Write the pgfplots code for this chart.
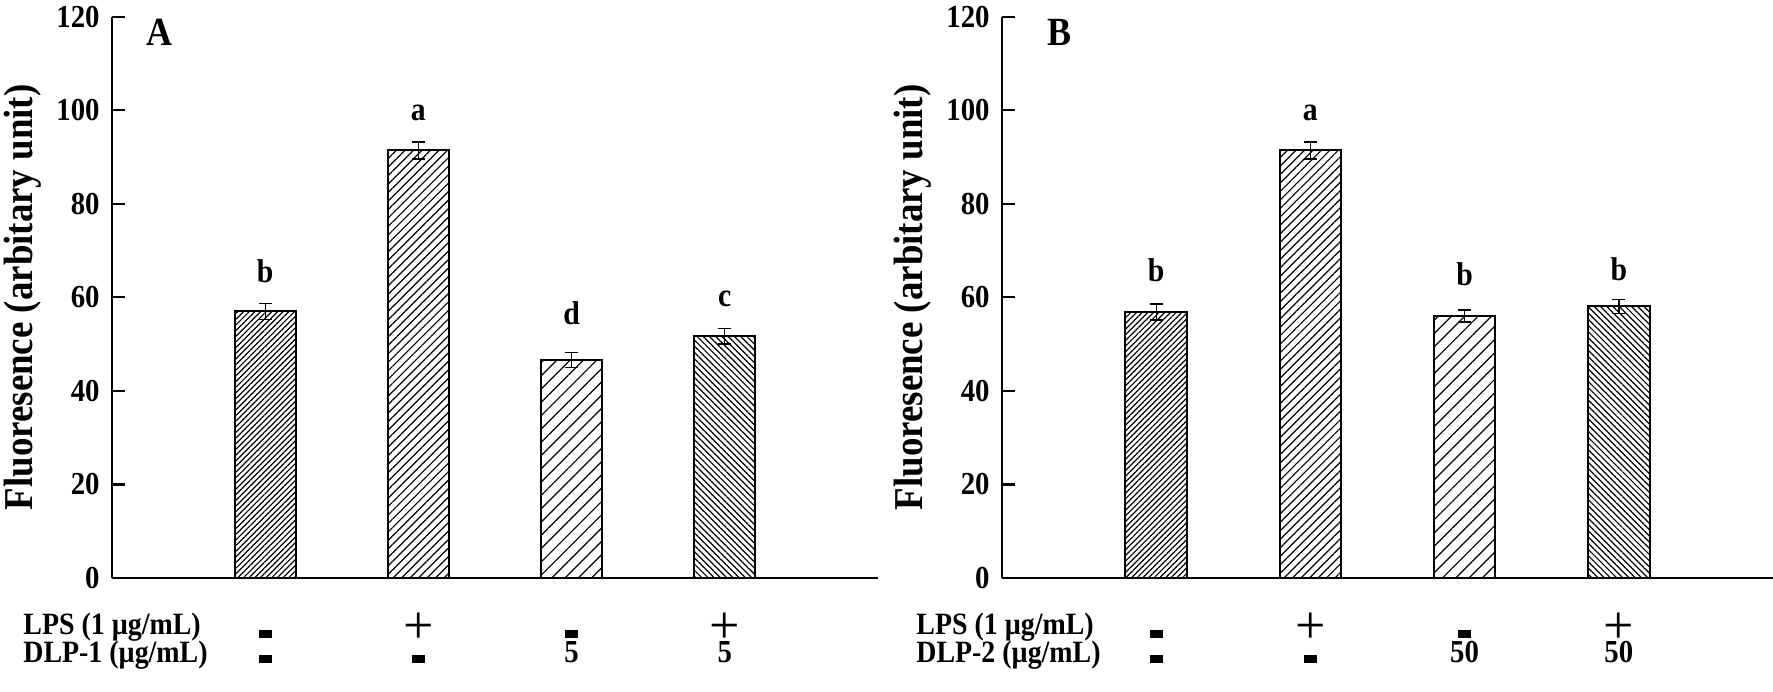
\documentclass[border=0pt]{standalone}
\usepackage{fontspec}
\setmainfont{Liberation Serif}[FakeStretch=0.9]
\usepackage{graphicx}
\usepackage{pgfplots}
\pgfplotsset{compat=1.18}
\usetikzlibrary{patterns.meta}

\newcommand\Pl{\raisebox{-1pt}{\scalebox{2.0}[1.8]{\mdseries +}}}
\newcommand\MiA{\rule[2pt]{6.5pt}{4pt}}
\newcommand\MiB{\rule[0pt]{6.5pt}{4pt}}
\newcommand\Num[1]{{\fontsize{16}{19}\selectfont #1}}

\tikzset{
 letter/.style={anchor=base, font=\fontsize{16.5}{19}\selectfont\bfseries},
 panel/.style={anchor=base, font=\fontsize{20}{24}\selectfont\bfseries},
}
\pgfplotsset{
 myaxis/.style={
  scale only axis, height=280.65pt, xmin=0, xmax=5, ymin=0, ymax=120,
  axis x line=bottom, axis y line=left, axis line style={-, line width=1.1pt},
  ytick={0,20,...,120}, ytick align=inside, major tick length=6.5pt,
  ytick style={line width=1.1pt, black},
  xtick={1,2,3,4}, xtick style={draw=none},
  /pgf/number format/assume math mode=true,
  yticklabel style={font=\fontsize{16}{18}\selectfont\bfseries, inner xsep=0pt, xshift=-6pt},
  xticklabel style={font=\fontsize{15}{18}\selectfont\bfseries, anchor=base, yshift=-28.5pt, inner sep=0pt},
  xticklabels={\MiA, \Pl, \MiA, \Pl},
  extra x ticks={1,2,3,4},
  extra x tick style={xtick style={draw=none}, xticklabel style={yshift=-10.5pt}},
  ylabel={Fluoresence (arbitary unit)},
  every axis y label/.style={at={(axis description cs:-0.116,0.5)}, rotate=90, anchor=center, font=\fontsize{20.5}{23}\selectfont\bfseries},
  clip=false,
 },
 mybar/.style={ybar, bar width=0.4, bar shift=0pt, draw=black, line width=1pt,
  error bars/y dir=both, error bars/y explicit,
  error bars/error bar style={line width=0.7pt, solid},
  error bars/error mark options={rotate=90, line width=0.7pt, mark size=3.2pt}},
 pA/.style={pattern={Lines[angle=45, distance=2pt, line width=0.6pt]}},
 pB/.style={pattern={Lines[angle=45, distance=3pt, line width=0.6pt]}},
 pC/.style={pattern={Lines[angle=45, distance=4.7pt, line width=0.6pt]}},
 pD/.style={pattern={Lines[angle=-45, distance=2.2pt, line width=0.6pt]}},
}

\begin{document}
\begin{tikzpicture}
\useasboundingbox (0,0) rectangle (886.5pt,345.5pt);

\begin{axis}[myaxis, width=383pt, at={(56pt,56.5pt)}, anchor=south west,
  extra x tick labels={\MiB, \MiB, \Num{5}, \Num{5}}]
\addplot[mybar, pA] coordinates {(1,57.0) +- (0,1.7)};
\addplot[mybar, pB] coordinates {(2,91.4) +- (0,1.8)};
\addplot[mybar, pC] coordinates {(3,46.6) +- (0,1.6)};
\addplot[mybar, pD] coordinates {(4,51.7) +- (0,1.7)};
\node[letter] at (axis cs:1,63.1) {b};
\node[letter] at (axis cs:2,97.9) {a};
\node[letter] at (axis cs:3,54.1) {d};
\node[letter] at (axis cs:4,58.0) {c};
\node[panel] at (axis cs:0.307,113.8) {A};
\end{axis}

\begin{axis}[myaxis, width=385.5pt, at={(501pt,56.5pt)}, anchor=south west,
  extra x tick labels={\MiB, \MiB, \Num{50}, \Num{50}}]
\addplot[mybar, pA] coordinates {(1,56.9) +- (0,1.7)};
\addplot[mybar, pB] coordinates {(2,91.4) +- (0,1.8)};
\addplot[mybar, pC] coordinates {(3,56.0) +- (0,1.3)};
\addplot[mybar, pD] coordinates {(4,58.1) +- (0,1.5)};
\node[letter] at (axis cs:1,63.3) {b};
\node[letter] at (axis cs:2,97.9) {a};
\node[letter] at (axis cs:3,62.6) {b};
\node[letter] at (axis cs:4,63.7) {b};
\node[panel] at (axis cs:0.376,113.8) {B};
\end{axis}

\begin{scope}[every node/.style={anchor=base west, inner sep=0pt, font=\fontsize{15.5}{18}\selectfont\bfseries}]
\node at (11.5pt,28pt) {LPS (1 µg/mL)};
\node at (11.5pt,14pt) {DLP-1 (µg/mL)};
\node at (458pt,28pt) {LPS (1 µg/mL)};
\node at (458pt,14pt) {DLP-2 (µg/mL)};
\end{scope}
\end{tikzpicture}
\end{document}
